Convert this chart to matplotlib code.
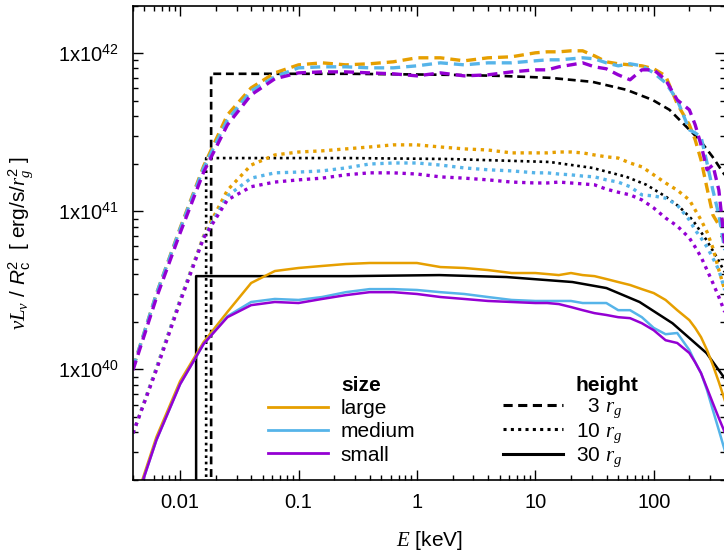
import numpy as np
import matplotlib
matplotlib.use("Agg")
import matplotlib.pyplot as plt
from matplotlib.lines import Line2D
from matplotlib.ticker import NullFormatter

plt.rcParams["font.family"] = ["Liberation Sans", "DejaVu Sans"]
plt.rcParams["mathtext.fontset"] = "custom"
plt.rcParams["mathtext.rm"] = "Liberation Sans"
plt.rcParams["mathtext.it"] = "Liberation Serif:italic"
plt.rcParams["mathtext.sf"] = "Liberation Sans:italic"
plt.rcParams["mathtext.bf"] = "Liberation Sans:bold"

# ---------------------------------------------------------------------------
# Data; luminosities in units of 1e40 erg/s/r_g^2
# ---------------------------------------------------------------------------

energy_kev = [0.004, 0.0063, 0.01, 0.0158, 0.0251, 0.0398, 0.0631, 0.1, 0.158,
              0.251, 0.398, 0.631, 1.0, 1.58, 2.51, 3.98, 6.31, 10.0, 12.6,
              15.8, 20.0, 25.1, 31.6, 39.8, 50.1, 63.1, 79.4, 100, 126, 158,
              200, 224, 251, 282, 316, 355, 398]

# height 3 r_g
large_3 = [1.02, 3.00, 7.84, 19.3, 40.7, 60.3, 75.0, 84.3, 86.8, 84.3, 85.6,
           88.1, 93.4, 93.4, 89.4, 93.4, 94.8, 100.4, 101.9, 101.9, 103.4,
           103.4, 96.1, 88.1, 85.6, 84.3, 83.1, 79.6, 71.8, 47.8, 35.2, 28.3,
           21.1, 14.0, 9.48, 8.19, 8.81]
medium_3 = [1.02, 3.00, 7.73, 18.8, 37.8, 57.7, 70.8, 80.7, 81.9, 81.9, 80.7,
            80.7, 83.1, 86.8, 84.3, 86.8, 86.8, 89.4, 90.7, 90.7, 92.0, 93.4,
            92.0, 86.8, 83.1, 85.6, 83.1, 75.0, 64.9, 50.6, 32.7, 31.3, 29.5,
            20.2, 13.6, 9.48, 5.69]
small_3 = [0.99, 2.83, 7.29, 17.7, 35.2, 54.5, 68.8, 75.0, 76.1, 76.1, 75.0,
           74.0, 71.8, 75.0, 71.8, 72.9, 76.1, 78.4, 78.4, 81.9, 84.3, 86.8,
           81.9, 79.6, 72.9, 67.8, 78.4, 78.4, 67.8, 50.6, 43.8, 35.2, 26.3,
           18.3, 19.6, 13.6, 6.12]

# height 10 r_g
large_10 = [0.395, 1.02, 2.75, 6.98, 13.6, 19.6, 22.7, 23.7, 24.1, 24.8, 25.5,
            26.3, 26.3, 25.5, 24.8, 24.4, 23.4, 23.4, 23.4, 23.7, 23.7, 23.4,
            22.7, 22.1, 21.7, 20.2, 19.1, 17.0, 15.1, 13.6, 11.8, 10.19, 8.81,
            7.40, 5.86, 4.25, 3.18]
medium_10 = [0.395, 1.02, 2.75, 6.88, 12.5, 16.2, 17.5, 17.7, 18.0, 18.8, 19.9,
             20.2, 20.2, 19.6, 18.8, 18.3, 18.0, 17.5, 17.5, 17.2, 17.0, 16.7,
             16.5, 15.8, 15.3, 14.3, 12.7, 12.5, 12.1, 10.96, 8.81, 7.61, 6.78,
             5.94, 5.06, 4.25, 3.18]
small_10 = [0.395, 0.99, 2.67, 6.78, 11.8, 14.3, 15.3, 15.8, 16.2, 17.0, 17.5,
            17.5, 17.2, 16.5, 16.2, 15.8, 15.3, 15.1, 15.1, 15.3, 15.1, 14.9,
            14.7, 13.8, 13.2, 12.7, 11.8, 10.49, 9.07, 8.07, 6.78, 5.94, 5.14,
            4.25, 3.52, 2.87, 2.31]

# height 30 r_g
large_30 = [0.1325, 0.373, 0.843, 1.49, 2.31, 3.52, 4.19, 4.38, 4.51, 4.64,
            4.71, 4.71, 4.71, 4.44, 4.38, 4.25, 4.07, 4.07, 4.01, 3.95, 4.07,
            3.95, 3.89, 3.73, 3.57, 3.42, 3.22, 3.04, 2.75, 2.37, 2.05, 1.83,
            1.60, 1.325, 1.065, 0.831, 0.639]
medium_30 = [0.1287, 0.357, 0.807, 1.45, 2.17, 2.67, 2.79, 2.75, 2.87, 3.08,
             3.22, 3.22, 3.18, 3.08, 3.00, 2.87, 2.75, 2.71, 2.71, 2.71, 2.71,
             2.63, 2.63, 2.63, 2.37, 2.37, 2.14, 1.83, 1.67, 1.70, 1.325, 1.11,
             0.948, 0.740, 0.553, 0.413, 0.308]
small_30 = [0.1287, 0.357, 0.807, 1.45, 2.14, 2.55, 2.67, 2.63, 2.79, 2.95,
            3.08, 3.08, 3.00, 2.87, 2.79, 2.71, 2.67, 2.63, 2.63, 2.59, 2.48,
            2.37, 2.27, 2.21, 2.14, 2.11, 1.96, 1.77, 1.53, 1.47, 1.27, 1.11,
            0.948, 0.761, 0.612, 0.492, 0.401]

# reference (black) curves, each with its own energy points
ref3_e = [0.01828, 0.01828, 0.268, 1.88, 4.97, 13.2, 30.4, 58.9, 97.7, 136,
          189, 244, 314, 397]
ref3_l = [0.01, 74.0, 74.0, 72.9, 71.8, 69.8, 65.8, 58.6, 50.6, 43.8, 34.2,
          28.3, 22.1, 17.0]
ref10_e = [0.01659, 0.01659, 0.268, 1.88, 13.2, 30.4, 58.9, 86.9, 128, 165,
           213, 279, 340, 397]
ref10_l = [0.01, 21.7, 21.7, 21.4, 20.5, 18.8, 16.5, 14.7, 12.3, 10.65, 8.81,
           6.58, 5.14, 4.13]
ref30_e = [0.01365, 0.01365, 0.268, 1.55, 5.70, 20.6, 39.9, 75.9, 144, 279, 397]
ref30_l = [0.01, 3.89, 3.89, 3.95, 3.84, 3.57, 3.27, 2.67, 1.96, 1.27, 0.88]

size_names = ["large", "medium", "small"]
height_names = ["3", "10", "30"]
height_labels = ["  3 $r_g$", "10 $r_g$", "30 $r_g$"]
xtick_vals = [0.01, 0.1, 1, 10, 100]
xtick_labels = ["0.01", "0.1", "1", "10", "100"]
ytick_vals = [1e40, 1e41, 1e42]
ytick_labels = ["1x10$^{40}$", "1x10$^{41}$", "1x10$^{42}$"]

# ---------------------------------------------------------------------------
# Plot
# ---------------------------------------------------------------------------

colors = {"large": "#e69f00", "medium": "#56b4e9", "small": "#9400d3"}
styles = {"3": (0, (3.0, 1.8)), "10": (0, (1.0, 1.4)), "30": "-"}
widths = {"3": 2.4, "10": 2.4, "30": 1.8}

scale = 1e40
series = {
    ("large", "3"): large_3, ("medium", "3"): medium_3, ("small", "3"): small_3,
    ("large", "10"): large_10, ("medium", "10"): medium_10, ("small", "10"): small_10,
    ("large", "30"): large_30, ("medium", "30"): medium_30, ("small", "30"): small_30,
}
refs = {"3": (ref3_e, ref3_l), "10": (ref10_e, ref10_l), "30": (ref30_e, ref30_l)}

fig = plt.figure(figsize=(7.24, 5.52), dpi=100)
ax = fig.add_axes([133 / 724, 72 / 552, 592 / 724, 474.5 / 552])

e = np.array(energy_kev)
for h in height_names:
    re, rl = refs[h]
    ax.plot(re, np.array(rl) * scale, color="black", ls=styles[h],
            lw=1.9 if h != "30" else 1.8)
for h in height_names:
    for s in size_names:
        ax.plot(e, np.array(series[(s, h)]) * scale, color=colors[s],
                ls=styles[h], lw=widths[h])

ax.set_xscale("log")
ax.set_yscale("log")
ax.set_xlim(0.004, 400)
ax.set_ylim(2e39, 2e42)
ax.set_xticks(xtick_vals, labels=xtick_labels)
ax.set_yticks(ytick_vals, labels=ytick_labels)
ax.xaxis.set_minor_formatter(NullFormatter())
ax.yaxis.set_minor_formatter(NullFormatter())
ax.tick_params(which="both", direction="in", top=True, right=True,
               labelsize=14.5, width=1.0)
ax.tick_params(which="major", length=7)
ax.tick_params(which="minor", length=3.8)
ax.tick_params(axis="x", which="major", pad=9.5)
ax.tick_params(axis="y", which="major", pad=10)
for sp in ax.spines.values():
    sp.set_linewidth(1.2)

ax.set_xlabel("$E$ [keV]", fontsize=15, labelpad=12)
ax.set_ylabel(r"$\nu L_\nu$ / $\mathsf{R}_\mathrm{c}^2$  [ erg/s/$r_g^2$ ]",
              fontsize=15)
ax.yaxis.set_label_coords(-0.165, 0.5)

blank = Line2D([], [], color="none")
size_handles = [blank] + [Line2D([], [], color=colors[s], lw=2.0)
                          for s in size_names]
leg_size = ax.legend(size_handles, ["size"] + size_names, loc="upper left",
                     bbox_to_anchor=(0.228, 0.219), frameon=False, fontsize=15,
                     handlelength=2.9, handletextpad=0.6, labelspacing=0.2,
                     borderpad=0, borderaxespad=0)
leg_size.get_texts()[0].set_fontweight("bold")
ax.add_artist(leg_size)

height_handles = [blank] + [Line2D([], [], color="black", ls=styles[h], lw=2.2)
                            for h in height_names]
leg_height = ax.legend(height_handles, ["height"] + height_labels,
                       loc="upper left", bbox_to_anchor=(0.625, 0.219),
                       frameon=False, fontsize=15, handlelength=2.9,
                       handletextpad=0.6, labelspacing=0.06, borderpad=0,
                       borderaxespad=0)
leg_height.get_texts()[0].set_fontweight("bold")

fig.savefig("out.png", dpi=100)
